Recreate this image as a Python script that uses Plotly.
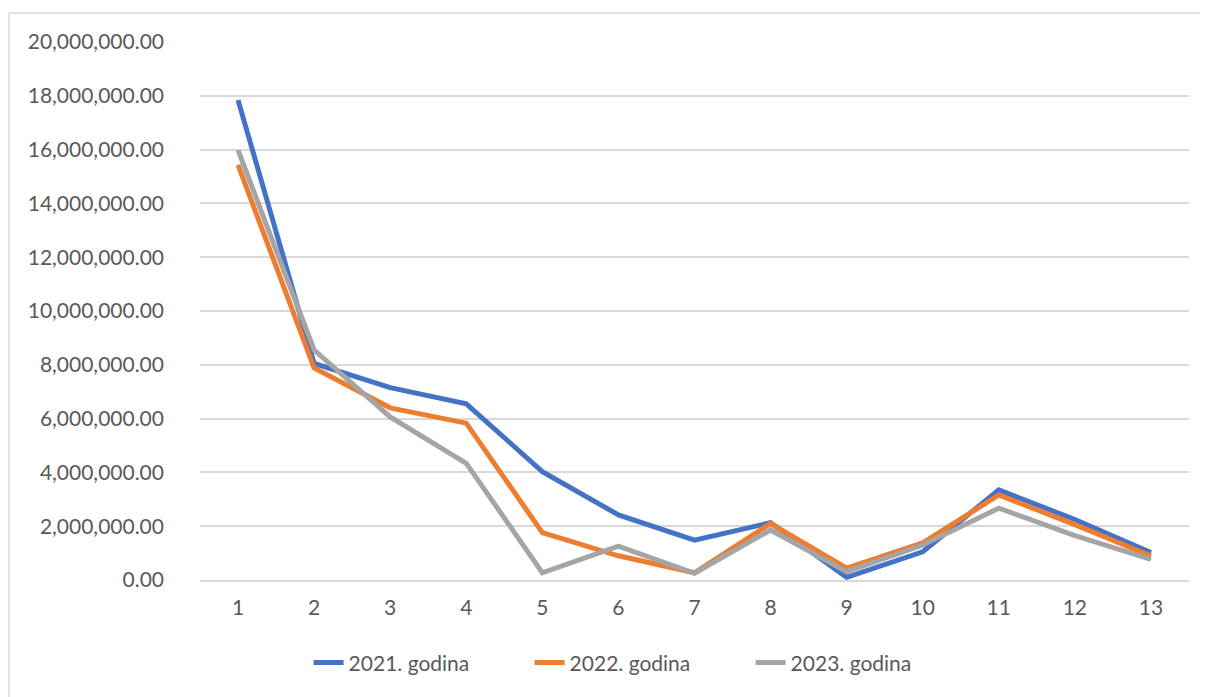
import plotly.graph_objects as go

categories = [str(i) for i in range(1, 14)]
series_names = ["2021. godina", "2022. godina", "2023. godina"]
values_2021 = [17840000, 8050000, 7150000, 6550000, 4030000, 2420000, 1480000, 2130000, 100000, 1050000, 3350000, 2250000, 1020000]
values_2022 = [15430000, 7880000, 6400000, 5830000, 1760000, 900000, 270000, 2100000, 440000, 1380000, 3160000, 2060000, 890000]
values_2023 = [15980000, 8550000, 6060000, 4340000, 270000, 1260000, 250000, 1860000, 310000, 1300000, 2670000, 1650000, 770000]
colors = ["#4472C4", "#ED7D31", "#A5A5A5"]
y_ticks = [i * 2000000 for i in range(11)]

fig = go.Figure()
for name, vals, col in zip(series_names, [values_2021, values_2022, values_2023], colors):
    fig.add_trace(go.Scatter(x=categories, y=vals, mode="lines", name=name,
                             line=dict(color=col, width=5)))

font_family = "Lato, 'Open Sans', sans-serif"
fig.update_layout(
    width=1200, height=689,
    margin=dict(l=192, r=19, t=34, b=117),
    paper_bgcolor="white", plot_bgcolor="white",
    font=dict(family=font_family, size=21, color="#595959"),
    showlegend=True,
    legend=dict(orientation="h", x=0.445, xanchor="center", y=-0.154, yanchor="middle",
                font=dict(size=21, color="#595959"), traceorder="normal",
                entrywidth=176, entrywidthmode="pixels"),
    xaxis=dict(type="category", range=[-0.5, 12.5], showgrid=False,
               showline=True, linecolor="#d9d9d9", linewidth=1.5,
               ticks="", tickfont=dict(size=21, color="#595959"), zeroline=False,
               ticklabelstandoff=8),
    yaxis=dict(range=[0, 20000000], tickvals=y_ticks, tickformat=",.2f",
               showgrid=True, gridcolor="#d9d9d9", gridwidth=1.5,
               zeroline=False, showline=False, ticks="",
               tickfont=dict(size=21, color="#595959"), ticklabelstandoff=35),
    shapes=[
        dict(type="line", xref="paper", yref="paper", x0=-0.1931, x1=1.1,
             y0=1.0539, y1=1.0539, line=dict(color="#d9d9d9", width=1.5)),
        dict(type="line", xref="paper", yref="paper", x0=-0.1931, x1=-0.1931,
             y0=1.0539, y1=-0.3, line=dict(color="#d9d9d9", width=1.5)),
    ],
)
fig.write_html("out.html")
